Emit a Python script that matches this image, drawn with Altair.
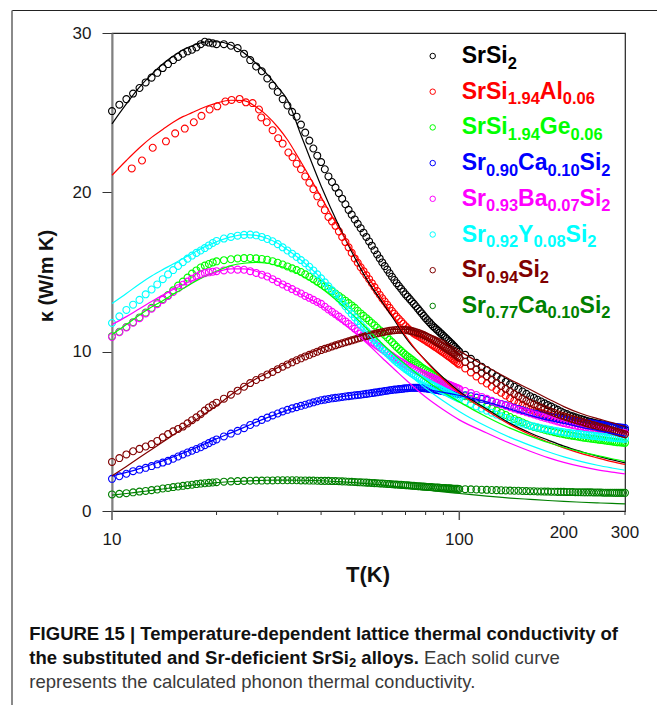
import altair as alt
import pandas as pd

# ------------------------------------------------------------------ data
NAMES = ["SrSi2", "SrSi1.94Al0.06", "SrSi1.94Ge0.06", "Sr0.90Ca0.10Si2",
         "Sr0.93Ba0.07Si2", "Sr0.92Y0.08Si2", "Sr0.94Si2", "Sr0.77Ca0.10Si2"]
COLORS = ["#000000", "#ff0000", "#00ff00", "#0000ff",
          "#ff00ff", "#00ffff", "#800000", "#008000"]

# measurement temperatures (K)
T_A = [10, 10.5, 11, 11.5, 12, 12.5, 13, 13.5, 14, 14.5, 15, 15.5, 16, 16.5, 17, 17.5, 18, 18.5, 19, 19.5, 20]
T_B = [21, 22, 23, 24, 25, 26, 27, 28, 29, 30, 31, 32, 33, 34, 35, 36, 37, 38, 39, 40]
T_C = [41, 42, 43, 44, 45, 46, 47, 48, 49, 50, 51, 52, 53, 54, 55, 56, 57, 58, 59, 60,
       61, 62, 63, 64, 65, 66, 67, 68, 69, 70, 71, 72, 73, 74, 75, 76, 77, 78, 79, 80,
       81, 82, 83, 84, 85, 86, 87, 88, 89, 90, 91, 92, 93, 94, 95, 96, 97, 98, 99, 100]
T_D = [104, 108, 112, 116, 120, 124, 128, 132, 136, 140, 144, 148, 152, 156, 160, 164, 168, 172, 176, 180,
       184, 188, 192, 196, 200, 204, 208, 212, 216, 220, 224, 228, 232, 236, 240, 244, 248, 252, 256, 260,
       264, 268, 272, 276, 280, 284, 288, 292, 296, 300]
T_GRID = T_A + T_B + T_C + T_D

RED_T_LOW = [11.4, 12.2, 13.1, 14.3, 15.2, 16.2, 17.2, 18.1, 19.1, 20.1, 21.2, 22.1, 23.3, 24.3, 25.4,
             26.5, 26.9, 27.9, 29.0, 30.1, 31.0, 32.2, 33.1, 34.0]
RED_T = RED_T_LOW + T_B[14:] + T_C + T_D

# measured kappa (W/m K), open circles
K_SRSI2 = [25.1, 25.5, 25.85, 26.2, 26.55, 26.9, 27.2, 27.5, 27.8, 28.05, 28.3, 28.5, 28.7, 28.85, 28.95, 29.1, 29.3, 29.45, 29.4, 29.35, 29.3,
           29.3, 29.2, 29.05, 28.7, 28.3, 27.9, 27.6, 27.15, 26.7, 26.3, 25.85, 25.45, 25.05, 24.75, 24.25, 23.75, 23.25, 22.75, 22.3, 21.9,
           21.45, 21.0, 20.65, 20.3, 19.95, 19.6, 19.25, 18.9, 18.6, 18.3, 18.02, 17.75, 17.47, 17.2, 16.92, 16.65, 16.37, 16.1, 15.85, 15.6,
           15.37, 15.15, 14.92, 14.7, 14.5, 14.3, 14.12, 13.95, 13.77, 13.6, 13.45, 13.3, 13.15, 13.0, 12.85, 12.7, 12.55, 12.4, 12.25, 12.1,
           11.97, 11.85, 11.72, 11.6, 11.5, 11.4, 11.3, 11.2, 11.1, 11.0, 10.9, 10.8, 10.7, 10.6, 10.5, 10.4, 10.3, 10.2, 10.1, 10.0,
           9.8, 9.55, 9.3, 9.05, 8.85, 8.65, 8.45, 8.28, 8.1, 7.95, 7.8, 7.65, 7.5, 7.35, 7.2, 7.1, 6.98, 6.87, 6.76, 6.65,
           6.55, 6.45, 6.35, 6.25, 6.15, 6.08, 6.0, 5.94, 5.88, 5.82, 5.77, 5.72, 5.67, 5.62, 5.58, 5.54, 5.5, 5.47, 5.44, 5.41,
           5.38, 5.35, 5.32, 5.29, 5.26, 5.23, 5.2, 5.17, 5.14, 5.1]
K_AL = [21.5, 22.0, 22.8, 23.2, 23.7, 24.0, 24.4, 24.8, 25.2, 25.4, 25.7, 25.8, 25.86, 25.65, 25.6,
        25.2, 24.7, 24.4, 23.9, 23.4, 23.06, 22.5, 22.2, 21.8,
        21.45, 21.0, 20.6, 20.2, 19.75, 19.3,
        18.88, 18.45, 18.18, 17.9, 17.55, 17.2, 16.88, 16.55, 16.2, 15.85, 15.58, 15.3, 15.05, 14.8, 14.55, 14.3, 14.05, 13.8, 13.57, 13.35,
        13.15, 12.95, 12.75, 12.55, 12.38, 12.2, 12.05, 11.9, 11.75, 11.6, 11.47, 11.35, 11.25, 11.15, 11.07, 11.0, 10.92, 10.85, 10.77, 10.7,
        10.62, 10.55, 10.47, 10.4, 10.32, 10.25, 10.17, 10.1, 10.02, 9.95, 9.87, 9.8, 9.72, 9.65, 9.57, 9.5, 9.42, 9.35, 9.27, 9.2,
        8.95, 8.7, 8.45, 8.2, 8.0, 7.8, 7.6, 7.42, 7.25, 7.08, 6.93, 6.78, 6.64, 6.5, 6.37, 6.3, 6.22, 6.15, 6.08, 6.02,
        5.96, 5.9, 5.84, 5.78, 5.73, 5.68, 5.64, 5.6, 5.56, 5.52, 5.48, 5.44, 5.4, 5.36, 5.32, 5.28, 5.24, 5.21, 5.18, 5.15,
        5.12, 5.09, 5.06, 5.03, 5.0, 4.97, 4.94, 4.92, 4.9, 4.88]
K_GE = [10.97, 11.25, 11.55, 11.85, 12.15, 12.45, 12.75, 13.05, 13.3, 13.55, 13.85, 14.15, 14.4, 14.65, 14.9, 15.1, 15.28, 15.4, 15.5, 15.6, 15.67,
        15.74, 15.8, 15.85, 15.87, 15.88, 15.86, 15.82, 15.77, 15.68, 15.58, 15.47, 15.35, 15.23, 15.12, 15.0, 14.85, 14.7, 14.55, 14.4, 14.25,
        14.1, 13.95, 13.8, 13.65, 13.5, 13.35, 13.2, 13.05, 12.9, 12.75, 12.57, 12.4, 12.25, 12.1, 11.95, 11.8, 11.65, 11.5, 11.35, 11.2,
        11.05, 10.9, 10.75, 10.6, 10.45, 10.3, 10.17, 10.05, 9.92, 9.8, 9.7, 9.6, 9.5, 9.4, 9.3, 9.2, 9.1, 9.0, 8.92, 8.85,
        8.77, 8.7, 8.62, 8.55, 8.47, 8.4, 8.32, 8.25, 8.17, 8.1, 8.02, 7.95, 7.87, 7.8, 7.72, 7.65, 7.57, 7.5, 7.42, 7.35,
        7.2, 7.05, 6.9, 6.75, 6.6, 6.45, 6.3, 6.16, 6.03, 5.9, 5.78, 5.67, 5.56, 5.45, 5.35, 5.28, 5.22, 5.16, 5.1, 5.05,
        5.0, 4.95, 4.9, 4.86, 4.82, 4.78, 4.75, 4.72, 4.69, 4.66, 4.63, 4.6, 4.58, 4.56, 4.54, 4.52, 4.5, 4.48, 4.46, 4.44,
        4.42, 4.4, 4.38, 4.36, 4.34, 4.32, 4.31, 4.3, 4.29, 4.28]
K_CA = [2.02, 2.18, 2.34, 2.5, 2.6, 2.71, 2.82, 2.93, 3.04, 3.15, 3.28, 3.42, 3.55, 3.67, 3.78, 3.89, 4.0, 4.13, 4.26, 4.38, 4.49,
        4.68, 4.86, 5.03, 5.2, 5.4, 5.55, 5.72, 5.86, 6.0, 6.12, 6.25, 6.35, 6.44, 6.52, 6.6, 6.67, 6.75, 6.82, 6.89, 6.95,
        6.99, 7.03, 7.07, 7.1, 7.13, 7.16, 7.19, 7.21, 7.24, 7.26, 7.28, 7.3, 7.33, 7.35, 7.38, 7.4, 7.43, 7.45, 7.48, 7.5,
        7.53, 7.55, 7.58, 7.6, 7.62, 7.63, 7.65, 7.66, 7.68, 7.7, 7.71, 7.72, 7.73, 7.73, 7.73, 7.73, 7.73, 7.72, 7.71, 7.7,
        7.68, 7.66, 7.65, 7.63, 7.62, 7.6, 7.58, 7.56, 7.54, 7.52, 7.5, 7.48, 7.47, 7.45, 7.44, 7.42, 7.4, 7.38, 7.36, 7.34,
        7.27, 7.2, 7.12, 7.04, 6.96, 6.88, 6.8, 6.72, 6.64, 6.56, 6.48, 6.4, 6.32, 6.24, 6.17, 6.12, 6.08, 6.03, 5.99, 5.94,
        5.9, 5.86, 5.82, 5.78, 5.74, 5.71, 5.68, 5.65, 5.63, 5.6, 5.58, 5.56, 5.54, 5.52, 5.5, 5.48, 5.45, 5.43, 5.41, 5.39,
        5.37, 5.35, 5.33, 5.31, 5.29, 5.27, 5.25, 5.24, 5.22, 5.21]
K_BA = [10.93, 11.22, 11.52, 11.82, 12.1, 12.4, 12.7, 12.98, 13.25, 13.5, 13.75, 13.98, 14.2, 14.4, 14.58, 14.72, 14.85, 14.93, 14.98, 15.02, 15.05,
        15.1, 15.14, 15.15, 15.14, 15.05, 14.94, 14.83, 14.72, 14.55, 14.38, 14.22, 14.07, 13.93, 13.78, 13.65, 13.5, 13.38, 13.25, 13.12, 13.0,
        12.82, 12.65, 12.5, 12.35, 12.2, 12.05, 11.9, 11.75, 11.6, 11.45, 11.3, 11.15, 11.02, 10.88, 10.75, 10.62, 10.5, 10.38, 10.27, 10.15,
        10.04, 9.93, 9.82, 9.72, 9.62, 9.52, 9.43, 9.35, 9.27, 9.18, 9.1, 9.03, 8.96, 8.9, 8.83, 8.77, 8.71, 8.65, 8.6, 8.54,
        8.49, 8.44, 8.39, 8.34, 8.3, 8.25, 8.2, 8.16, 8.11, 8.07, 8.02, 7.98, 7.94, 7.9, 7.86, 7.82, 7.78, 7.74, 7.7, 7.66,
        7.53, 7.4, 7.28, 7.16, 7.04, 6.92, 6.8, 6.7, 6.61, 6.52, 6.43, 6.35, 6.27, 6.2, 6.13, 6.06, 5.99, 5.92, 5.86, 5.8,
        5.74, 5.68, 5.62, 5.57, 5.52, 5.48, 5.44, 5.4, 5.36, 5.33, 5.3, 5.27, 5.24, 5.21, 5.18, 5.15, 5.12, 5.1, 5.08, 5.06,
        5.04, 5.02, 5.0, 4.98, 4.96, 4.94, 4.92, 4.91, 4.9, 4.89]
K_Y = [11.8, 12.22, 12.62, 12.95, 13.25, 13.6, 13.9, 14.22, 14.55, 14.85, 15.12, 15.38, 15.62, 15.84, 16.03, 16.2, 16.35, 16.5, 16.67, 16.82, 16.95,
       17.1, 17.2, 17.28, 17.33, 17.35, 17.3, 17.2, 17.07, 16.93, 16.75, 16.55, 16.35, 16.15, 15.95, 15.75, 15.55, 15.33, 15.1, 14.85, 14.6,
       14.35, 14.1, 13.85, 13.6, 13.35, 13.1, 12.85, 12.6, 12.37, 12.15, 11.92, 11.7, 11.5, 11.3, 11.1, 10.9, 10.72, 10.55, 10.37, 10.2,
       10.05, 9.9, 9.76, 9.62, 9.49, 9.36, 9.24, 9.13, 9.02, 8.92, 8.82, 8.73, 8.64, 8.56, 8.48, 8.4, 8.33, 8.26, 8.19, 8.13,
       8.06, 8.0, 7.94, 7.88, 7.82, 7.76, 7.7, 7.65, 7.59, 7.54, 7.49, 7.44, 7.39, 7.34, 7.29, 7.24, 7.19, 7.14, 7.1, 7.05,
       6.88, 6.72, 6.57, 6.43, 6.3, 6.17, 6.05, 5.94, 5.84, 5.74, 5.65, 5.57, 5.49, 5.42, 5.35, 5.3, 5.25, 5.2, 5.16, 5.12,
       5.08, 5.04, 5.0, 4.97, 4.94, 4.91, 4.89, 4.87, 4.85, 4.83, 4.81, 4.79, 4.77, 4.75, 4.73, 4.72, 4.7, 4.68, 4.67, 4.65,
       4.64, 4.62, 4.61, 4.6, 4.58, 4.57, 4.56, 4.55, 4.54, 4.53]
K_SR94 = [3.08, 3.32, 3.55, 3.75, 3.9, 4.05, 4.2, 4.4, 4.62, 4.83, 5.0, 5.15, 5.3, 5.5, 5.7, 5.88, 6.07, 6.3, 6.5, 6.65, 6.8,
          7.05, 7.3, 7.55, 7.8, 8.03, 8.22, 8.4, 8.57, 8.73, 8.9, 9.06, 9.2, 9.33, 9.46, 9.58, 9.7, 9.8, 9.9, 10.0, 10.1,
          10.18, 10.25, 10.33, 10.4, 10.47, 10.53, 10.59, 10.65, 10.71, 10.77, 10.83, 10.88, 10.93, 10.98, 11.03, 11.07, 11.11, 11.15, 11.19, 11.22,
          11.25, 11.28, 11.31, 11.33, 11.35, 11.36, 11.37, 11.37, 11.37, 11.36, 11.34, 11.32, 11.29, 11.26, 11.22, 11.18, 11.14, 11.09, 11.04, 10.98,
          10.92, 10.86, 10.8, 10.73, 10.67, 10.6, 10.53, 10.46, 10.39, 10.32, 10.25, 10.18, 10.11, 10.04, 9.97, 9.9, 9.83, 9.76, 9.69, 9.62,
          9.35, 9.12, 8.9, 8.68, 8.46, 8.25, 8.04, 7.85, 7.67, 7.5, 7.34, 7.19, 7.05, 6.92, 6.8, 6.69, 6.59, 6.49, 6.4, 6.31,
          6.23, 6.15, 6.07, 6.0, 5.94, 5.88, 5.82, 5.77, 5.72, 5.67, 5.62, 5.57, 5.52, 5.47, 5.42, 5.38, 5.33, 5.29, 5.25, 5.21,
          5.17, 5.13, 5.09, 5.05, 5.01, 4.97, 4.93, 4.89, 4.85, 4.82]
K_SR77 = [1.04, 1.08, 1.12, 1.17, 1.22, 1.26, 1.31, 1.35, 1.41, 1.45, 1.5, 1.54, 1.58, 1.62, 1.65, 1.69, 1.72, 1.74, 1.77, 1.79, 1.81,
          1.84, 1.86, 1.88, 1.89, 1.9, 1.91, 1.91, 1.92, 1.92, 1.93, 1.93, 1.93, 1.93, 1.93, 1.92, 1.92, 1.91, 1.91, 1.9, 1.89,
          1.89, 1.89, 1.88, 1.88, 1.87, 1.86, 1.85, 1.84, 1.83, 1.82, 1.81, 1.8, 1.79, 1.78, 1.77, 1.76, 1.75, 1.74, 1.73, 1.72,
          1.71, 1.7, 1.69, 1.68, 1.67, 1.66, 1.65, 1.64, 1.63, 1.62, 1.61, 1.6, 1.59, 1.58, 1.57, 1.56, 1.55, 1.54, 1.53, 1.52,
          1.51, 1.5, 1.5, 1.49, 1.48, 1.47, 1.47, 1.46, 1.45, 1.44, 1.44, 1.43, 1.43, 1.42, 1.41, 1.4, 1.4, 1.39, 1.39, 1.38,
          1.37, 1.36, 1.35, 1.34, 1.33, 1.32, 1.31, 1.3, 1.29, 1.28, 1.27, 1.27, 1.26, 1.25, 1.24, 1.24, 1.23, 1.23, 1.22, 1.22,
          1.21, 1.21, 1.2, 1.2, 1.2, 1.19, 1.19, 1.19, 1.18, 1.18, 1.18, 1.17, 1.17, 1.17, 1.17, 1.16, 1.16, 1.16, 1.16, 1.15,
          1.15, 1.15, 1.15, 1.15, 1.14, 1.14, 1.14, 1.14, 1.14, 1.14]

# calculated phonon thermal conductivity (solid curves)
T_CALC = [10, 11, 12, 13, 14, 15, 16, 17, 18, 19, 20, 22, 24, 26, 28, 30, 32, 35, 40, 45, 50, 55, 60, 65, 70,
          80, 90, 100, 120, 140, 160, 180, 200, 225, 250, 275, 300]
C_SRSI2 = [24.3, 25.55, 26.6, 27.4, 28.05, 28.55, 28.95, 29.2, 29.38, 29.45, 29.45, 29.25, 28.75, 28.1, 27.4, 26.6, 25.8, 23.6,
           20.4, 17.9, 15.9, 14.3, 13.1, 12.0, 10.9, 9.45, 8.35, 7.5, 6.4, 5.5, 4.9, 4.45, 4.07, 3.72, 3.44, 3.22, 3.02]
C_AL = [21.07, 22.0, 22.8, 23.45, 23.95, 24.4, 24.75, 25.0, 25.25, 25.45, 25.6, 25.78, 25.75, 25.35, 24.8, 24.1, 23.3, 21.9,
        19.7, 17.75, 16.1, 14.6, 13.3, 12.1, 11.0, 9.4, 8.25, 7.4, 6.3, 5.42, 4.8, 4.33, 3.96, 3.6, 3.33, 3.1, 2.92]
C_GE = [11.07, 11.7, 12.3, 12.8, 13.2, 13.6, 13.95, 14.3, 14.6, 14.85, 15.05, 15.4, 15.55, 15.6, 15.55, 15.4, 15.2, 14.8,
        14.0, 13.1, 12.2, 11.3, 10.5, 9.8, 9.2, 8.2, 7.45, 6.85, 5.9, 5.2, 4.7, 4.3, 4.0, 3.7, 3.48, 3.28, 3.12]
C_CA = [2.2, 2.42, 2.66, 2.92, 3.15, 3.4, 3.63, 3.87, 4.1, 4.32, 4.53, 4.9, 5.25, 5.58, 5.86, 6.1, 6.33, 6.6,
        6.93, 7.15, 7.3, 7.42, 7.52, 7.6, 7.62, 7.6, 7.45, 7.25, 6.85, 6.4, 6.0, 5.7, 5.5, 5.25, 5.05, 4.87, 4.7]
C_BA = [11.7, 12.2, 12.7, 13.15, 13.55, 13.9, 14.2, 14.45, 14.65, 14.85, 15.0, 15.2, 15.2, 15.05, 14.75, 14.4, 14.1, 13.6,
        12.9, 12.0, 11.2, 10.4, 9.6, 8.9, 8.25, 7.15, 6.35, 5.72, 4.9, 4.25, 3.75, 3.35, 3.05, 2.78, 2.58, 2.44, 2.33]
C_Y = [13.02, 13.65, 14.25, 14.75, 15.15, 15.5, 15.85, 16.15, 16.45, 16.7, 16.9, 17.2, 17.35, 17.3, 17.1, 16.8, 16.4, 15.75,
       14.6, 13.3, 12.1, 11.05, 10.15, 9.4, 8.75, 7.7, 6.9, 6.25, 5.3, 4.62, 4.12, 3.72, 3.4, 3.1, 2.87, 2.7, 2.56]
C_SR94 = [2.2, 2.8, 3.35, 3.86, 4.33, 4.77, 5.18, 5.56, 5.93, 6.27, 6.6, 7.3, 7.85, 8.3, 8.65, 9.0, 9.3, 9.7,
          10.2, 10.6, 10.9, 11.15, 11.3, 11.4, 11.4, 11.15, 10.7, 10.05, 9.05, 8.25, 7.62, 7.05, 6.55, 6.1, 5.8, 5.55, 5.3]
C_SR77 = [1.0, 1.1, 1.2, 1.29, 1.38, 1.47, 1.55, 1.62, 1.68, 1.73, 1.78, 1.84, 1.88, 1.91, 1.93, 1.94, 1.94, 1.93,
          1.9, 1.84, 1.78, 1.7, 1.62, 1.53, 1.45, 1.32, 1.2, 1.1, 0.93, 0.81, 0.73, 0.66, 0.6, 0.55, 0.51, 0.48, 0.45]

MEASURED = [(T_GRID, K_SRSI2), (RED_T, K_AL), (T_GRID, K_GE), (T_GRID, K_CA),
            (T_GRID, K_BA), (T_GRID, K_Y), (T_GRID, K_SR94), (T_GRID, K_SR77)]
CALC = [C_SRSI2, C_AL, C_GE, C_CA, C_BA, C_Y, C_SR94, C_SR77]

# axis / legend / caption texts
Y_TICKS = [0, 10, 20, 30]
X_MINOR = [20, 30, 40, 50, 60, 70, 80, 90, 200, 300]
X_MAJOR = [10, 100]
X_LABELS_LONG = ["10", "100"]
X_LABELS_SHORT = ["200", "300"]
LEGEND_PARTS = [
    [("SrSi", "n"), ("2", "s")],
    [("SrSi", "n"), ("1.94", "s"), ("Al", "n"), ("0.06", "s")],
    [("SrSi", "n"), ("1.94", "s"), ("Ge", "n"), ("0.06", "s")],
    [("Sr", "n"), ("0.90", "s"), ("Ca", "n"), ("0.10", "s"), ("Si", "n"), ("2", "s")],
    [("Sr", "n"), ("0.93", "s"), ("Ba", "n"), ("0.07", "s"), ("Si", "n"), ("2", "s")],
    [("Sr", "n"), ("0.92", "s"), ("Y", "n"), ("0.08", "s"), ("Si", "n"), ("2", "s")],
    [("Sr", "n"), ("0.94", "s"), ("Si", "n"), ("2", "s")],
    [("Sr", "n"), ("0.77", "s"), ("Ca", "n"), ("0.10", "s"), ("Si", "n"), ("2", "s")],
]
CAP1 = "FIGURE 15 | Temperature-dependent lattice thermal conductivity of"
CAP2_BOLD = "the substituted and Sr-deficient SrSi"
CAP2_SUB = "2"
CAP2_BOLD2 = "alloys."
CAP2_REG = "Each solid curve"
CAP3 = "represents the calculated phonon thermal conductivity."

# ------------------------------------------------------------------ tables
pts = []
for name, (ts, ks) in zip(NAMES, MEASURED):
    assert len(ts) == len(ks), (name, len(ts), len(ks))
    pts += [{"T": t, "k": k, "series": name} for t, k in zip(ts, ks)]
pts_df = pd.DataFrame(pts)

crv = []
for name, ks in zip(NAMES, CALC):
    assert len(ks) == len(T_CALC), (name, len(ks))
    crv += [{"T": t, "k": k, "series": name} for t, k in zip(T_CALC, ks)]
crv_df = pd.DataFrame(crv)

# ------------------------------------------------------------------ layout helpers
W, H = 513, 478
FONT = "Liberation Sans"
BOLD_W = {'S': .667, 'r': .389, 'i': .278, 'A': .722, 'l': .278, 'G': .778, 'e': .556, 'C': .722,
          'a': .556, 'B': .722, 'Y': .667, '.': .278, ' ': .278, 't': .333, 'h': .611, 's': .556,
          'u': .611, 'b': .611, 'd': .611, 'n': .611, '-': .333, 'f': .333, 'c': .556, 'o': .611,
          'y': .556}
for dgt in "0123456789":
    BOLD_W[dgt] = .556


def tw(s, size):
    return sum(BOLD_W[c] for c in s) * size


MAIN_FS, SUB_FS = 23, 16.5
leg_circ, leg_txt = [], []
for i, (parts, col) in enumerate(zip(LEGEND_PARTS, COLORS)):
    cy = 23 + i * 35.7
    leg_circ.append({"px": 320.7, "py": cy, "col": col})
    x = 349.7
    for txt, kind in parts:
        fs = MAIN_FS if kind == "n" else SUB_FS
        py = cy + 7 + (0 if kind == "n" else 5.5)
        leg_txt.append({"px": x, "py": py, "txt": txt, "col": col, "fs": fs})
        x += tw(txt, fs)

CFS = 18.5
cx0 = -82.7
x_sub = cx0 + tw(CAP2_BOLD, CFS)
x_all = x_sub + tw(CAP2_SUB, 13) + tw(" ", CFS)
x_reg = x_all + tw(CAP2_BOLD2, CFS) + tw(" ", CFS)
cap_bold = pd.DataFrame([
    {"px": cx0, "py": 607, "txt": CAP1, "col": "#111111", "fs": CFS},
    {"px": cx0, "py": 631, "txt": CAP2_BOLD, "col": "#111111", "fs": CFS},
    {"px": x_sub, "py": 634, "txt": CAP2_SUB, "col": "#111111", "fs": 13},
    {"px": x_all, "py": 631, "txt": CAP2_BOLD2, "col": "#111111", "fs": CFS},
] + leg_txt)
cap_reg = pd.DataFrame([
    {"px": x_reg, "py": 631, "txt": CAP2_REG, "col": "#3a3a3a", "fs": CFS},
    {"px": cx0, "py": 655, "txt": CAP3, "col": "#3a3a3a", "fs": CFS},
])
frame_df = pd.DataFrame([
    {"x": -100, "x2": 545, "y": -22.5, "y2": -22.5, "col": "#222222", "sw": 1.2},
    {"x": -100, "x2": -100, "y": -22.5, "y2": 672, "col": "#8a8a8a", "sw": 2},
])

# ------------------------------------------------------------------ encodings
xs = alt.Scale(type="log", domain=[10, 300], nice=False)
ys = alt.Scale(domain=[0, 30], nice=False, zero=False)
xenc = alt.X("T:Q", scale=xs, axis=None)
yenc = alt.Y("k:Q", scale=ys, axis=alt.Axis(
    values=Y_TICKS, title=None, grid=False, tickSize=10, tickColor="#333333", tickWidth=1,
    domainColor="#808080", domainWidth=2, labelFont=FONT, labelFontSize=17,
    labelColor="#1a1a1a", labelPadding=11))
cenc = alt.Color("series:N", scale=alt.Scale(domain=NAMES, range=COLORS), legend=None)

circles = alt.Chart(pts_df).mark_point(
    shape="circle", filled=False, size=48, strokeWidth=1.1, opacity=1
).encode(x=xenc, y=yenc, color=cenc)

curves = alt.Chart(crv_df).mark_line(strokeWidth=1.2, interpolate="monotone").encode(
    x=xenc, y=yenc, color=cenc)

minor_ticks = alt.Chart(pd.DataFrame({"T": X_MINOR})).mark_rule(color="#333333", strokeWidth=1).encode(
    x=xenc, y=alt.value(H), y2=alt.value(H + 4))
major_ticks = alt.Chart(pd.DataFrame({"T": X_MAJOR})).mark_rule(color="#555555", strokeWidth=1.5).encode(
    x=xenc, y=alt.value(H), y2=alt.value(H + 9))

lab_long = alt.Chart(pd.DataFrame({"T": X_MAJOR, "lab": X_LABELS_LONG})).mark_text(
    font=FONT, fontSize=17, color="#1a1a1a", align="center", baseline="alphabetic"
).encode(x=xenc, y=alt.value(H + 34), text="lab:N")
lab_short = alt.Chart(pd.DataFrame({"T": [200, 300], "lab": X_LABELS_SHORT})).mark_text(
    font=FONT, fontSize=17, color="#1a1a1a", align="center", baseline="alphabetic"
).encode(x=xenc, y=alt.value(H + 27), text="lab:N")

px = alt.X("px:Q", scale=None, axis=None)
py = alt.Y("py:Q", scale=None, axis=None)
colraw = alt.Color("col:N", scale=None, legend=None)
fsraw = alt.Size("fs:Q", scale=None, legend=None)

leg_points = alt.Chart(pd.DataFrame(leg_circ)).mark_point(
    shape="circle", filled=False, size=30, strokeWidth=1, opacity=1
).encode(x=px, y=py, color=colraw)

bold_text = alt.Chart(cap_bold).mark_text(
    font=FONT, fontWeight="bold", align="left", baseline="alphabetic"
).encode(x=px, y=py, text="txt:N", color=colraw, size=fsraw)
reg_text = alt.Chart(cap_reg).mark_text(
    font=FONT, align="left", baseline="alphabetic"
).encode(x=px, y=py, text="txt:N", color=colraw, size=fsraw)

titles = alt.Chart(pd.DataFrame([{"px": 256, "py": 549, "txt": "T(K)"}])).mark_text(
    font=FONT, fontWeight="bold", fontSize=22, color="#111111", align="center", baseline="alphabetic"
).encode(x=px, y=py, text="txt:N")
ytitle = alt.Chart(pd.DataFrame([{"px": -65, "py": 243, "txt": "κ (W/m K)"}])).mark_text(
    font=FONT, fontWeight="bold", fontSize=20, color="#111111", align="center", baseline="middle", angle=270
).encode(x=px, y=py, text="txt:N")

frame = alt.Chart(frame_df).mark_rule().encode(
    x=alt.X("x:Q", scale=None, axis=None), x2="x2:Q",
    y=alt.Y("y:Q", scale=None, axis=None), y2="y2:Q",
    color=colraw, strokeWidth=alt.StrokeWidth("sw:Q", scale=None, legend=None))

chart = alt.layer(
    circles, curves, minor_ticks, major_ticks, lab_long, lab_short,
    leg_points, bold_text, reg_text, titles, ytitle, frame
).properties(
    width=W, height=H,
    padding={"left": 112, "top": 33, "right": 32, "bottom": 194},
    autosize=alt.AutoSizeParams(type="none"),
).configure_view(stroke="#222222", strokeWidth=1.2)

chart.save("out.html", embed_options={"renderer": "svg", "actions": False})
